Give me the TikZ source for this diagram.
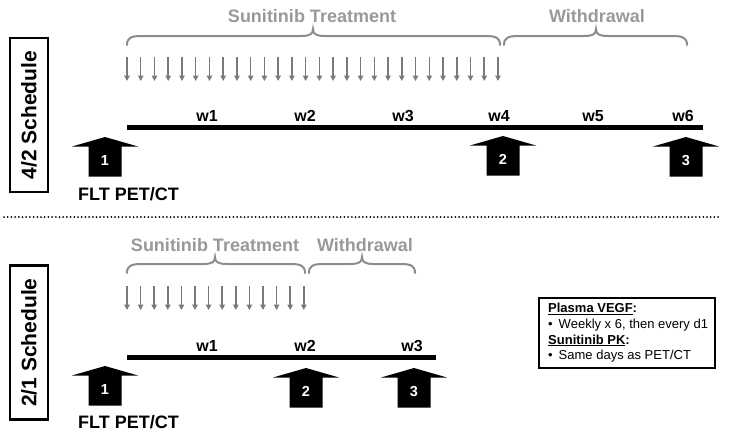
\documentclass[tikz,border=0pt]{standalone}
\usepackage{fontspec}
\setmainfont{Liberation Sans}
\usetikzlibrary{arrows.meta}
\definecolor{lbl}{HTML}{999999}
\definecolor{brc}{HTML}{8C8C8C}
\definecolor{darr}{HTML}{7A7A7A}
\tikzset{
  schedbox/.style={draw, line width=2.5pt, rotate=90, minimum width=154pt, minimum height=38pt, inner sep=0pt, font=\bfseries\fontsize{21}{21}\selectfont},
  graylbl/.style={text=lbl, font=\bfseries\fontsize{18}{18}\selectfont, inner sep=0pt},
  wlbl/.style={font=\bfseries\fontsize{16}{16}\selectfont, inner sep=0pt},
  fltlbl/.style={font=\bfseries\fontsize{18}{18}\selectfont, inner sep=0pt, anchor=west},
  timeline/.style={line width=5pt},
  bracepath/.style={draw=brc, line width=2pt, line cap=round},
  dosearrow/.style={draw=darr, line width=1.5pt, -{Triangle[width=5.5pt,length=5.5pt]}},
  numlbl/.style={text=white, font=\bfseries\fontsize{14.5}{14.5}\selectfont, inner sep=0pt},
  pics/bigup/.style={code={
    \fill (0,0) -- (33,9.5) -- (16.5,9.5) -- (16.5,39.5) -- (-16.5,39.5) -- (-16.5,9.5) -- (-33,9.5) -- cycle;
    \node[numlbl] (-n) at (0,23.5) {#1};
  }},
}
% brace: \mybrace{xa}{xb}{xm}{yend}{yline}{ytip}
\newcommand\mybrace[6]{%
  \draw[bracepath] (#1,#4) .. controls (#1,#5+2) and (#1+4,#5) .. (#1+14,#5)
    -- (#3-12,#5) .. controls (#3-3,#5) and (#3,#5-2) .. (#3,#6)
    .. controls (#3,#5-2) and (#3+3,#5) .. (#3+12,#5)
    -- (#2-14,#5) .. controls (#2-4,#5) and (#2,#5+2) .. (#2,#4);}
\begin{document}
\begin{tikzpicture}[x=1pt,y=-1pt]
\useasboundingbox (0,0) rectangle (729,440);
\fill[white] (0,0) rectangle (729,440);

% ===== top: 4/2 schedule =====
\node[schedbox] (box42) at (29,115) {4/2 Schedule};
\node[graylbl] (trt42) at (312,16) {Sunitinib Treatment};
\node[graylbl] (wd42) at (597,16) {Withdrawal};
\mybrace{127}{500}{313}{45}{36}{29}
\mybrace{504}{687}{596}{45}{36}{29}
\foreach \i in {0,...,27}{
  \coordinate (ta\i) at ({127+\i*13.74},57);
  \coordinate (tb\i) at ({127+\i*13.74},81);
  \draw[dosearrow] (ta\i) -- (tb\i);
}
\coordinate (tl0) at (127,127);
\coordinate (tl1) at (703,127);
\draw[timeline] (tl0) -- (tl1);
\node[wlbl] (tw1) at (207,116) {w1};
\node[wlbl] (tw2) at (305,116) {w2};
\node[wlbl] (tw3) at (403,116) {w3};
\node[wlbl] (tw4) at (499,116) {w4};
\node[wlbl] (tw5) at (593,116) {w5};
\node[wlbl] (tw6) at (683,116) {w6};
\pic (ta1) at (105,137) {bigup=1};
\pic (ta2) at (503,136) {bigup=2};
\pic (ta3) at (686,137) {bigup=3};
\node[fltlbl] (flt42) at (78,194) {FLT PET/CT};

% separator
\coordinate (s0) at (4,217);
\coordinate (s1) at (721,217);
\draw[line width=2pt, line cap=round, dash pattern=on 0pt off 3.7pt] (s0) -- (s1);

% ===== bottom: 2/1 schedule =====
\node[schedbox] (box21) at (29,342.5) {2/1 Schedule};
\node[graylbl] (trt21) at (215,245) {Sunitinib Treatment};
\node[graylbl] (wd21) at (365,245) {Withdrawal};
\mybrace{127}{305}{215}{273}{264}{257}
\mybrace{309}{415}{362}{273}{264}{257}
\foreach \i in {0,...,13}{
  \coordinate (ba\i) at ({127+\i*13.6},286);
  \coordinate (bb\i) at ({127+\i*13.6},310);
  \draw[dosearrow] (ba\i) -- (bb\i);
}
\coordinate (bl0) at (127,357);
\coordinate (bl1) at (436,357);
\draw[timeline] (bl0) -- (bl1);
\node[wlbl] (bw1) at (207,346) {w1};
\node[wlbl] (bw2) at (305,346) {w2};
\node[wlbl] (bw3) at (412,346) {w3};
\pic (ba1) at (105,366) {bigup=1};
\pic (ba2) at (306,368) {bigup=2};
\pic (ba3) at (414,368) {bigup=3};
\node[fltlbl] (flt21) at (78,422) {FLT PET/CT};

% legend
\node[draw, line width=1.8pt, minimum width=176pt, minimum height=70pt, inner sep=0pt] (leg) at (627,333) {};
\node[anchor=north west, inner sep=0pt, align=left, font=\fontsize{13}{15.7}\selectfont] (legtxt) at (548,303)
  {\textbf{\underline{Plasma VEGF}:}\\
   \textbullet\hspace{6pt}Weekly x 6, then every d1\\
   \textbf{\underline{Sunitinib PK}:}\\
   \textbullet\hspace{6pt}Same days as PET/CT};
\end{tikzpicture}
\end{document}
